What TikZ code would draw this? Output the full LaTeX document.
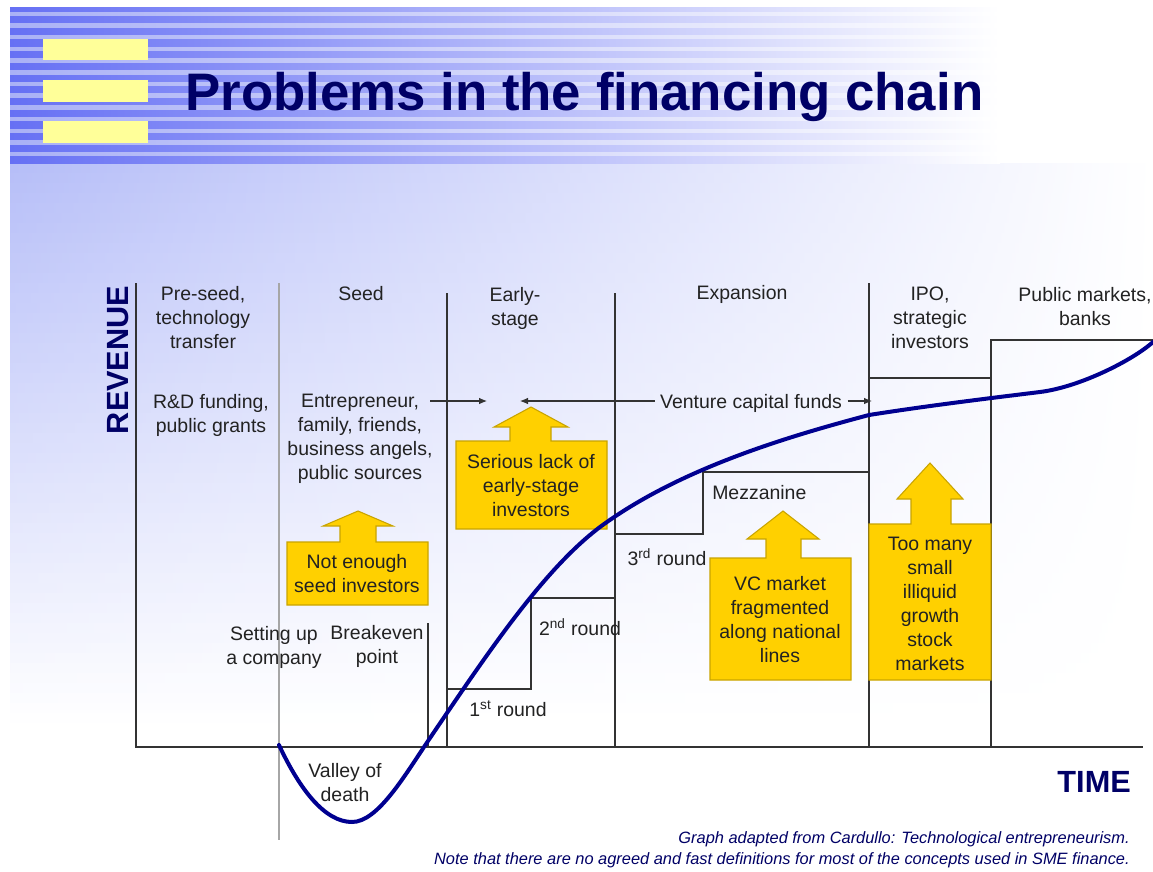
\documentclass[tikz,border=0pt]{standalone}
\usepackage{fontspec}
\setmainfont{Liberation Sans}
\usetikzlibrary{arrows.meta}
\definecolor{navy}{HTML}{000066}
\definecolor{curveblue}{HTML}{000090}
\definecolor{stripeD}{HTML}{6670F4}
\definecolor{stripeL}{HTML}{AAB1F6}
\definecolor{lav}{HTML}{B6BEF8}
\definecolor{hiyellow}{HTML}{FFFF99}
\definecolor{gold}{HTML}{FFD000}
\definecolor{goldline}{HTML}{C9A400}
\definecolor{ink}{HTML}{222222}
\definecolor{rule}{HTML}{333333}
\begin{document}
\begin{tikzpicture}[x=0.75pt,y=-0.75pt,
  lbl/.style={font=\fontsize{14.6pt}{18pt}\selectfont, text=ink, align=center, inner sep=0pt},
  chartline/.style={draw=rule, line width=1.1pt},
  ybox/.style={fill=gold, draw=goldline, line width=0.8pt},
  arr/.style={draw=rule, line width=0.8pt, -{Latex[length=6pt,width=5pt]}},
  hdr/.style={font=\fontsize{23pt}{24pt}\selectfont\bfseries, text=navy, inner sep=0pt},
  foot/.style={font=\fontsize{12.3pt}{14pt}\selectfont\itshape, text=navy, inner sep=0pt, anchor=base east},
]
\useasboundingbox (0,0) rectangle (1153,871);
\fill[white] (0,0) rectangle (1153,871);
% lower background gradient
\foreach \i in {0,...,56}{
  \pgfmathtruncatemacro{\p}{100-\i*100/56}
  \pgfmathsetmacro{\ya}{163+10*\i}
  \pgfmathsetmacro{\yb}{174+10*\i}
  \shade[left color=lav!\p!white, right color=white] (10,\ya) rectangle (1153,\yb);
}
% header stripes
\shade[left color=stripeD, middle color=stripeD!70!white, right color=white] (10,7) rectangle (1000,163);
\foreach \k in {0,...,12}{
  \pgfmathsetmacro{\ya}{12+11.7*\k}
  \pgfmathsetmacro{\yb}{15.5+11.7*\k}
  \shade[left color=stripeL, middle color=stripeL!70!white, right color=white] (10,\ya) rectangle (1000,\yb);
}
% yellow bars
\fill[hiyellow] (43,39) rectangle (148,60);
\fill[hiyellow] (43,80) rectangle (148,102);
\fill[hiyellow] (43,121) rectangle (148,143);
\node[anchor=base west, inner sep=0pt, font=\fontsize{39.6pt}{40pt}\selectfont\bfseries, text=navy] (title) at (185,110) {Problems in the financing chain};

% chart lines
\draw[draw=gray!70, line width=0.9pt] (279,283) -- (279,840);
\draw[chartline] (136,283) -- (136,747) -- (1143,747);
\draw[chartline] (447,293) -- (447,747);
\draw[chartline] (615,293) -- (615,747);
\draw[chartline] (869,283) -- (869,747);
\draw[chartline] (428,623) -- (428,747);
\draw[chartline] (447,689) -- (531,689) -- (531,598) -- (615,598);
\draw[chartline] (615,534) -- (703,534) -- (703,472) -- (869,472);
\draw[chartline] (869,378) -- (991,378);
\draw[chartline] (991,747) -- (991,340) -- (1153,340);

% yellow arrow boxes
\draw[ybox] (456,529) -- (456,441) -- (510,441) -- (510,427) -- (494,427) -- (531,407) -- (568,427) -- (551,427) -- (551,441) -- (607,441) -- (607,529) -- cycle;
\draw[ybox] (287,605) -- (287,542) -- (340,542) -- (340,526) -- (323,526) -- (358,511) -- (393,526) -- (376,526) -- (376,542) -- (428,542) -- (428,605) -- cycle;
\draw[ybox] (710,680) -- (710,558) -- (766,558) -- (766,539) -- (747,539) -- (783,511) -- (819,539) -- (801,539) -- (801,558) -- (851,558) -- (851,680) -- cycle;
\draw[ybox] (869,680) -- (869,524) -- (911,524) -- (911,499) -- (897,499) -- (930,463) -- (963,499) -- (951,499) -- (951,524) -- (991,524) -- (991,680) -- cycle;

% curve
\draw[curveblue, line width=3pt, line cap=round]
  (279,745) .. controls (300,790) and (325,822) .. (352,822)
  .. controls (378,822) and (405,775) .. (430,738)
  .. controls (487,654) and (543,570) .. (600,527)
  .. controls (680,468) and (790,436) .. (869,415)
  .. controls (926,406) and (983,399) .. (1040,392)
  .. controls (1080,387) and (1133,360) .. (1153,342);

% texts
\node[hdr, rotate=90] (rev) at (118,360) {REVENUE};
\node[hdr, anchor=base east] (time) at (1131,792) {TIME};
\node[lbl] (pre) at (203,318) {Pre-seed,\\technology\\transfer};
\node[lbl] (seed) at (361,294) {Seed};
\node[lbl] (early) at (515,308) {Early-\\stage};
\node[lbl] (exp) at (742,294) {Expansion};
\node[lbl] (ipo) at (930,318) {IPO,\\strategic\\investors};
\node[lbl] (pub) at (1085,307) {Public markets,\\banks};
\node[lbl] (rd) at (211,415) {R\&D funding,\\public grants};
\node[lbl] (ent) at (360,439) {Entrepreneur,\\family, friends,\\business angels,\\public sources};
\node[lbl, inner sep=4pt] (vcf) at (751,403) {Venture capital funds};
\node[lbl, anchor=west] (mezz) at (712,493) {Mezzanine};
\node[lbl] (r3) at (667,557) {3\textsuperscript{rd} round};
\node[lbl] (r2) at (580,627) {2\textsuperscript{nd} round};
\node[lbl] (r1) at (508,709) {1\textsuperscript{st} round};
\node[lbl] (setup) at (274,647) {Setting up\\a company};
\node[lbl] (breakeven) at (377,646) {Breakeven\\point};
\node[lbl] (valley) at (345,783) {Valley of\\death};
\node[lbl] (serious) at (531,486) {Serious lack of\\early-stage\\investors};
\node[lbl] (notenough) at (357,574) {Not enough\\seed investors};
\node[lbl] (vcm) at (780,620) {VC market\\fragmented\\along national\\lines};
\node[lbl] (toomany) at (930,604) {Too many\\small\\illiquid\\growth\\stock\\markets};

% arrows
\coordinate (entR) at (430,401);
\coordinate (earlyA) at (487,401);
\coordinate (earlyB) at (520,401);
\coordinate (ipoA) at (872,401);
\draw[arr] (entR) -- (earlyA);
\draw[arr] (vcf.west |- entR) -- (earlyB);
\draw[arr] (vcf.east |- entR) -- (ipoA);

% footer
\node[foot] (f1) at (1130,843) {Graph adapted from Cardullo: Technological entrepreneurism.};
\node[foot] (f2) at (1130,864) {Note that there are no agreed and fast definitions for most of the concepts used in SME finance.};
\end{tikzpicture}
\end{document}
